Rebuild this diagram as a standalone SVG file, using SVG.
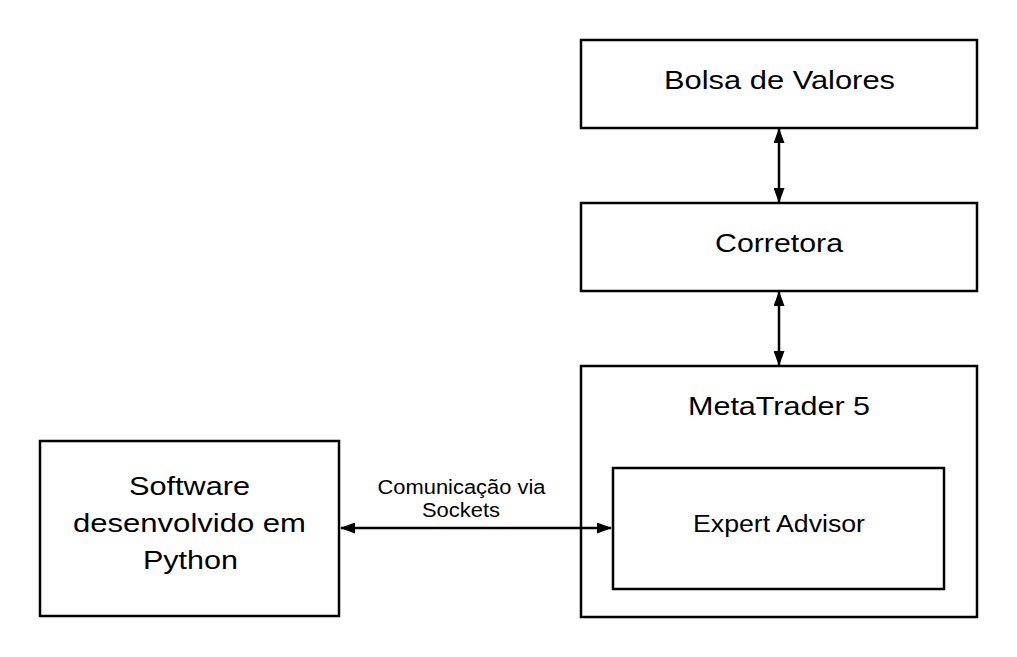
<svg xmlns="http://www.w3.org/2000/svg" width="1017" height="657" viewBox="0 0 1017 657">
<style>
.box{fill:#fff;stroke:#000;stroke-width:2.5}
.t{font-family:"Liberation Sans",Arial,sans-serif;fill:#000;text-anchor:middle}
.big{font-size:26px}
.mid{font-size:23px}
.small{font-size:20px}
.c{stroke:#000;stroke-width:2.5;fill:none}
</style>
<defs>
<marker id="ah" viewBox="0 0 15 11" refX="14" refY="5.5" markerWidth="15" markerHeight="11" markerUnits="userSpaceOnUse" orient="auto-start-reverse">
<path d="M0,0 L15,5.5 L0,11 Z" fill="#000"/>
</marker>
</defs>
<rect width="1017" height="657" fill="#fff"/>
<g id="bolsa"><rect class="box" x="581" y="40" width="396" height="88"/><text class="t big" x="779.5" y="88.5" textLength="231" lengthAdjust="spacingAndGlyphs">Bolsa de Valores</text></g>
<g id="corretora"><rect class="box" x="581" y="203" width="396" height="88"/><text class="t big" x="779" y="252" textLength="128" lengthAdjust="spacingAndGlyphs">Corretora</text></g>
<g id="metatrader"><rect class="box" x="581" y="366" width="396" height="251"/><text class="t big" x="779" y="415" textLength="182" lengthAdjust="spacingAndGlyphs">MetaTrader 5</text></g>
<g id="expert"><rect class="box" x="613" y="468" width="331" height="121"/><text class="t mid" x="779" y="532" textLength="172" lengthAdjust="spacingAndGlyphs">Expert Advisor</text></g>
<g id="software"><rect class="box" x="40" y="441" width="299" height="175"/><text class="t big" x="189.5" y="495" textLength="121" lengthAdjust="spacingAndGlyphs">Software</text><text class="t big" x="189.5" y="532" textLength="233" lengthAdjust="spacingAndGlyphs">desenvolvido em</text><text class="t big" x="190.5" y="569" textLength="95" lengthAdjust="spacingAndGlyphs">Python</text></g>
<g id="connectors">
<line class="c" x1="779" y1="129" x2="779" y2="202" marker-start="url(#ah)" marker-end="url(#ah)"/>
<line class="c" x1="779" y1="292" x2="779" y2="365" marker-start="url(#ah)" marker-end="url(#ah)"/>
<line class="c" x1="341" y1="528" x2="611" y2="528" marker-start="url(#ah)" marker-end="url(#ah)"/>
<text class="t small" x="461.5" y="494" textLength="168" lengthAdjust="spacingAndGlyphs">Comunicação via</text>
<text class="t small" x="461" y="517" textLength="78" lengthAdjust="spacingAndGlyphs">Sockets</text>
</g>
</svg>
